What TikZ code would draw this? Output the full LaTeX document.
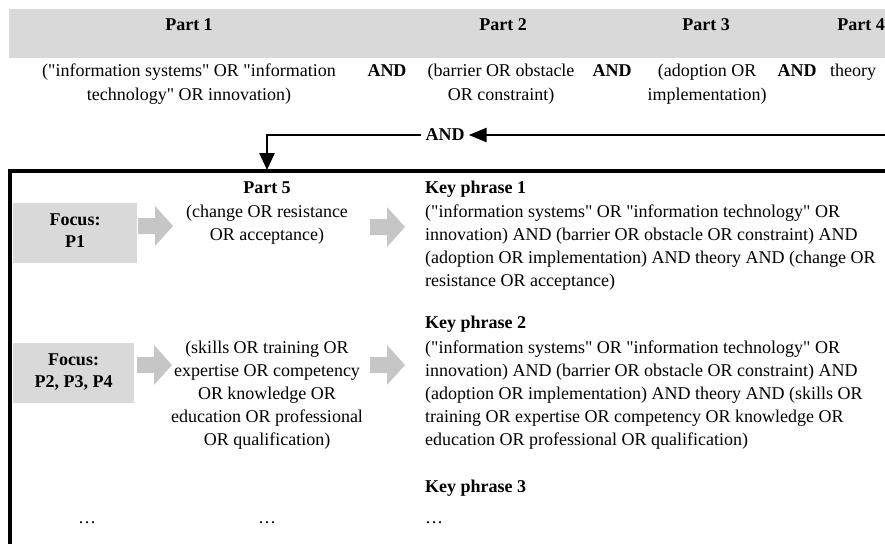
\documentclass[tikz,border=0pt]{standalone}
\usepackage{fontspec}
\setmainfont{Liberation Serif}[Ligatures=TeXOff]
\usetikzlibrary{arrows.meta}
\definecolor{bandgray}{RGB}{217,217,217}
\definecolor{arrowgray}{RGB}{198,198,198}
\begin{document}
\begin{tikzpicture}[x=1pt,y=-1pt,
  every node/.style={inner sep=0pt, font=\fontsize{18}{23}\selectfont},
  hdr/.style={anchor=base, font=\fontsize{18}{23}\selectfont\bfseries},
  hdrw/.style={anchor=base west, font=\fontsize{18}{23}\selectfont\bfseries},
  txtc/.style={anchor=base},
  txtl/.style={anchor=base west},
  focusbox/.style={fill=bandgray, minimum width=#1, minimum height=60, font=\fontsize{18}{22}\selectfont\bfseries},
  conn/.style={line width=2.5pt},
  blockarrow/.pic={\fill[arrowgray] (0,-8) -- (17,-8) -- (17,-20) -- (35,0) -- (17,20) -- (17,8) -- (0,8) -- cycle;}
]
\useasboundingbox (0,0) rectangle (885,543);
\clip (0,0) rectangle (885,543);

% header band
\fill[bandgray] (9,9) rectangle (900,58);
\node[hdr] (p1) at (189,31) {Part 1};
\node[hdr] (p2) at (503,31) {Part 2};
\node[hdr] (p3) at (706,31) {Part 3};
\node[hdr] (p4) at (861,31) {Part 4};

% search terms row
\node[txtc] (t1) at (189,77) {\begin{tabular}[t]{@{}c@{}}("information systems" OR "information\\technology" OR innovation)\end{tabular}};
\node[hdr] (a1) at (387,77) {AND};
\node[txtc] (t2) at (501,77) {\begin{tabular}[t]{@{}c@{}}(barrier OR obstacle\\OR constraint)\end{tabular}};
\node[hdr] (a2) at (612,77) {AND};
\node[txtc] (t3) at (707,77) {\begin{tabular}[t]{@{}c@{}}(adoption OR\\implementation)\end{tabular}};
\node[hdr] (a3) at (797,77) {AND};
\node[txtc] (t4) at (853,77) {theory};

% AND connector
\coordinate (rend) at (900,135);
\node[font=\fontsize{18}{23}\selectfont\bfseries, inner xsep=4pt] (and5) at (445,135) {AND};
\coordinate (p5in) at (267,170);
\draw[conn, -{Triangle[length=18pt,width=14pt]}] (rend) -- (and5.east);
\draw[conn, -{Triangle[length=17pt,width=15pt]}] (and5.west) -| (p5in);

% frame
\draw[line width=3.5pt] (10,600) -- (10,171) -- (900,171);

% row 1
\node[focusbox=124] (f1) at (75,232.5) {\begin{tabular}{@{}c@{}}Focus:\\P1\end{tabular}};
\pic at (138,226) {blockarrow};
\node[hdr] (p5) at (267,193) {Part 5};
\node[txtc] (p5t) at (267,217) {\begin{tabular}[t]{@{}c@{}}(change OR resistance\\OR acceptance)\end{tabular}};
\pic at (370,227) {blockarrow};
\node[hdrw] (k1) at (425,193) {Key phrase 1};
\node[txtl] (k1t) at (425,217) {\begin{tabular}[t]{@{}l@{}}("information systems" OR "information technology" OR\\innovation) AND (barrier OR obstacle OR constraint) AND\\(adoption OR implementation) AND theory AND (change OR\\resistance OR acceptance)\end{tabular}};

% row 2
\node[focusbox=121] (f2) at (73.5,372.5) {\begin{tabular}{@{}c@{}}Focus:\\P2, P3, P4\end{tabular}};
\pic at (137,365) {blockarrow};
\node[txtc] (p5b) at (267,353) {\begin{tabular}[t]{@{}c@{}}(skills OR training OR\\expertise OR competency\\OR knowledge OR\\education OR professional\\OR qualification)\end{tabular}};
\pic at (370,365) {blockarrow};
\node[hdrw] (k2) at (425,328) {Key phrase 2};
\node[txtl] (k2t) at (425,353) {\begin{tabular}[t]{@{}l@{}}("information systems" OR "information technology" OR\\innovation) AND (barrier OR obstacle OR constraint) AND\\(adoption OR implementation) AND theory AND (skills OR\\training OR expertise OR competency OR knowledge OR\\education OR professional OR qualification)\end{tabular}};

% row 3
\node[txtc] (d1) at (87,523) {…};
\node[txtc] (d2) at (267,523) {…};
\node[hdrw] (k3) at (425,492) {Key phrase 3};
\node[txtl] (d3) at (425,523) {…};
\end{tikzpicture}
\end{document}
